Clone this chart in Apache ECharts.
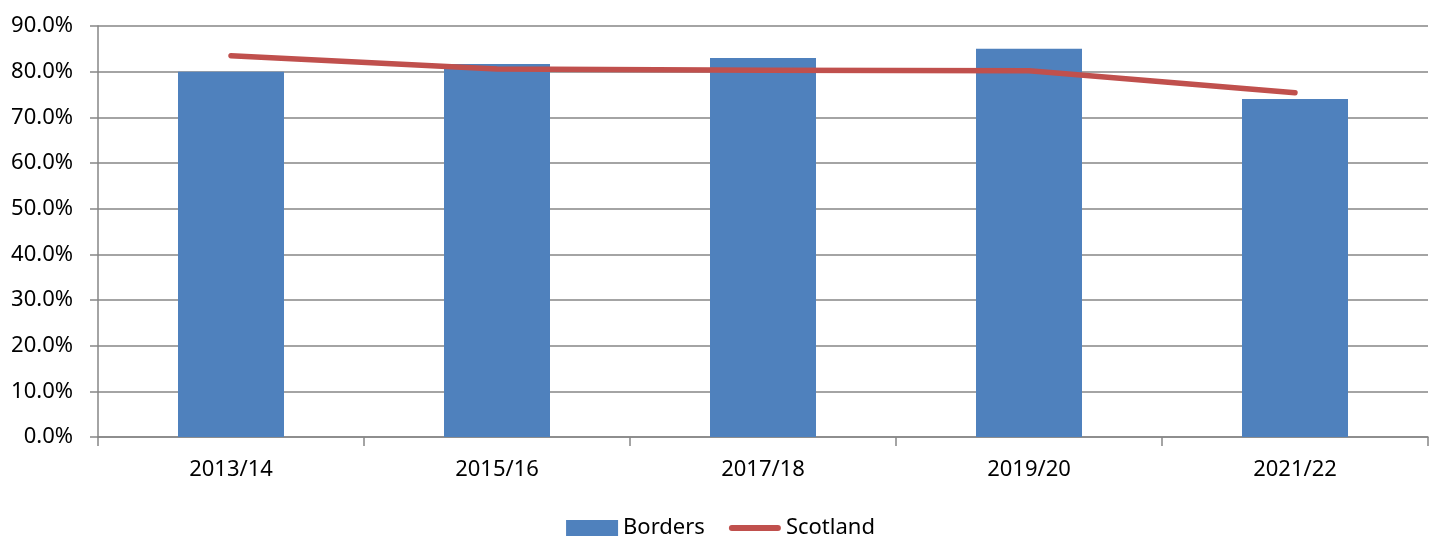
<!DOCTYPE html>
<html>
<head>
<meta charset="utf-8">
<script src="https://cdn.jsdelivr.net/npm/echarts@6/dist/echarts.min.js"></script>
<style>
html,body{margin:0;padding:0;background:#fff;}
#chart{width:1441px;height:536px;}
</style>
</head>
<body>
<div id="chart"></div>
<script>
var categories = ['2013/14', '2015/16', '2017/18', '2019/20', '2021/22'];
var bordersValues = [80.0, 81.7, 83.0, 85.0, 74.0];
var scotlandValues = [83.5, 80.6, 80.3, 80.2, 75.4];
var seriesNames = ['Borders', 'Scotland'];

var font = 'Noto Sans';
var chart = echarts.init(document.getElementById('chart'), null, {renderer: 'canvas'});
chart.setOption({
  animation: false,
  backgroundColor: '#ffffff',
  grid: {left: 98, right: 13, top: 26, bottom: 99, containLabel: false},
  legend: {
    bottom: -8,
    left: 'center',
    itemWidth: 52,
    itemHeight: 16,
    itemGap: 24,
    textStyle: {fontFamily: font, fontSize: 22, color: '#000'},
    data: [
      {name: seriesNames[0], icon: 'rect'},
      {name: seriesNames[1], icon: 'path://M3,0 L49,0 A3,3 0 0 1 49,6 L3,6 A3,3 0 0 1 3,0 Z',
       itemStyle: {color: '#C0504D'}}
    ]
  },
  xAxis: {
    type: 'category',
    data: categories,
    boundaryGap: true,
    axisLine: {lineStyle: {color: '#868686', width: 1.5}},
    axisTick: {show: true, length: 9, alignWithLabel: false, lineStyle: {color: '#868686', width: 1.5}},
    axisLabel: {fontFamily: font, fontSize: 22, color: '#000', margin: 22}
  },
  yAxis: {
    type: 'value',
    min: 0, max: 90, interval: 10,
    axisLine: {show: true, lineStyle: {color: '#868686', width: 1.5}},
    axisTick: {show: true, length: 8, lineStyle: {color: '#868686', width: 1.5}},
    axisLabel: {fontFamily: font, fontSize: 22, color: '#000', margin: 25,
      formatter: function (v) { return v.toFixed(1) + '%'; }},
    splitLine: {show: true, lineStyle: {color: '#868686', width: 1.5}}
  },
  series: [
    {
      name: seriesNames[0],
      type: 'bar',
      data: bordersValues,
      barWidth: 106,
      itemStyle: {color: '#4F81BD'}
    },
    {
      name: seriesNames[1],
      type: 'line',
      data: scotlandValues,
      symbol: 'none',
      showSymbol: false,
      lineStyle: {color: '#C0504D', width: 5.5, cap: 'round', join: 'round'},
      itemStyle: {color: '#C0504D'}
    }
  ]
});
</script>
</body>
</html>
